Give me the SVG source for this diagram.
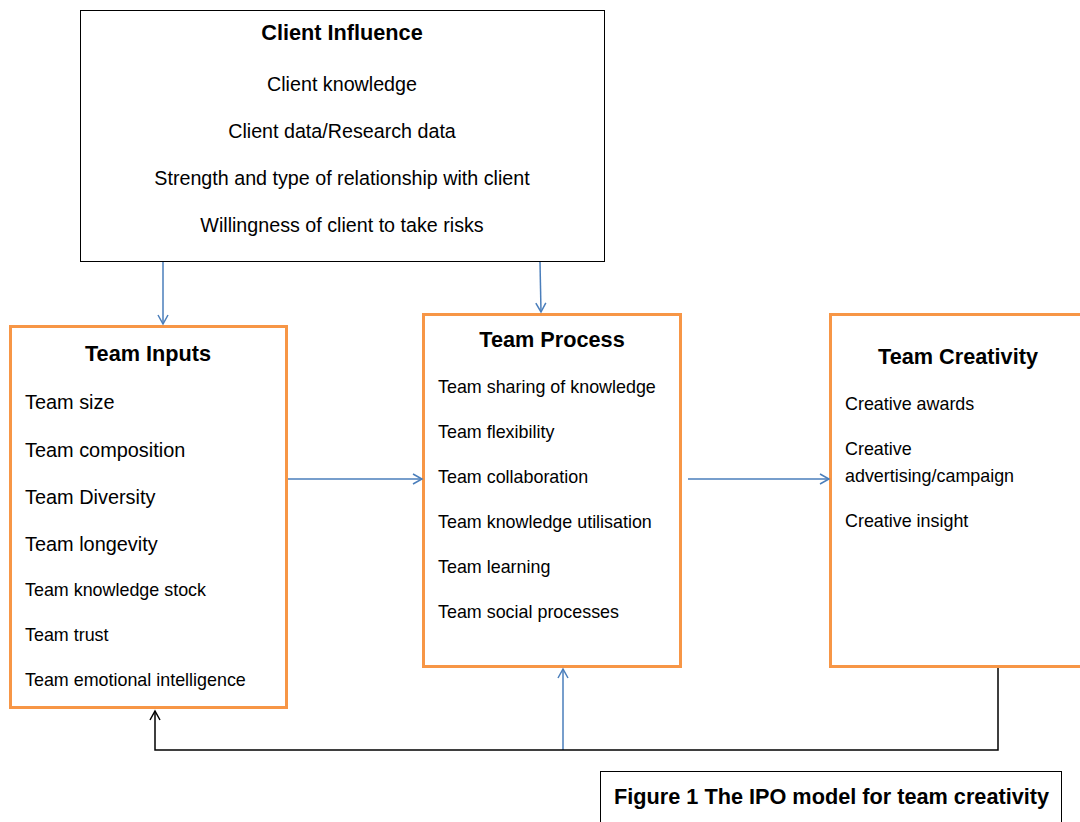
<svg xmlns="http://www.w3.org/2000/svg" width="1080" height="822" viewBox="0 0 1080 822">
<style>
text{font-family:"Liberation Sans",Arial,sans-serif;fill:#000}
.t{font-weight:bold;font-size:21.7px}
.c{font-size:19.7px;text-anchor:middle}
.i{font-size:17.9px}
.ib{font-size:19.9px}
.ob{fill:#fff;stroke:#F79646;stroke-width:3}
.bb{fill:#fff;stroke:#000;stroke-width:1}
.bl{stroke:#4A7EBB;stroke-width:1.5;fill:none}
.bk{stroke:#000;stroke-width:1.5;fill:none}
</style>
<defs>
<marker id="ab" markerWidth="12" markerHeight="12" refX="10" refY="6" orient="auto" markerUnits="userSpaceOnUse"><path d="M1,1 L10,6 L1,11" fill="none" stroke="#4A7EBB" stroke-width="1.5"/></marker>
<marker id="ak" markerWidth="12" markerHeight="12" refX="10" refY="6" orient="auto" markerUnits="userSpaceOnUse"><path d="M1,1 L10,6 L1,11" fill="none" stroke="#000" stroke-width="1.5"/></marker>
</defs>
<rect width="1080" height="822" fill="#fff"/>
<g id="client">
<rect class="bb" x="80.5" y="10.5" width="524" height="251"/>
<text class="t" x="342" y="40" text-anchor="middle">Client Influence</text>
<text class="c" x="342" y="91">Client knowledge</text>
<text class="c" x="342" y="138">Client data/Research data</text>
<text class="c" x="342" y="185">Strength and type of relationship with client</text>
<text class="c" x="342" y="232">Willingness of client to take risks</text>
</g>
<g id="inputs">
<rect class="ob" x="10.5" y="326.5" width="276" height="381"/>
<text class="t" x="148" y="361" text-anchor="middle">Team Inputs</text>
<text class="ib" x="25" y="409">Team size</text>
<text class="ib" x="25" y="457">Team composition</text>
<text class="ib" x="25" y="504">Team Diversity</text>
<text class="ib" x="25" y="551">Team longevity</text>
<text class="i" x="25" y="596">Team knowledge stock</text>
<text class="i" x="25" y="641">Team trust</text>
<text class="i" x="25" y="686">Team emotional intelligence</text>
</g>
<g id="process">
<rect class="ob" x="423.5" y="314.5" width="257" height="352"/>
<text class="t" x="552" y="347" text-anchor="middle">Team Process</text>
<text class="i" x="438" y="393">Team sharing of knowledge</text>
<text class="i" x="438" y="438">Team flexibility</text>
<text class="i" x="438" y="483">Team collaboration</text>
<text class="i" x="438" y="528">Team knowledge utilisation</text>
<text class="i" x="438" y="573">Team learning</text>
<text class="i" x="438" y="618">Team social processes</text>
</g>
<g id="creativity">
<rect class="ob" x="830.5" y="314.5" width="260" height="352"/>
<text class="t" x="958" y="364" text-anchor="middle">Team Creativity</text>
<text class="i" x="845" y="410">Creative awards</text>
<text class="i" x="845" y="455">Creative</text>
<text class="i" x="845" y="482">advertising/campaign</text>
<text class="i" x="845" y="527">Creative insight</text>
</g>
<g id="caption">
<rect class="bb" x="600.5" y="771.5" width="461" height="60"/>
<text class="t" x="614" y="804">Figure 1 The IPO model for team creativity</text>
</g>
<g id="connectors">
<line class="bl" x1="163" y1="262" x2="163" y2="324" marker-end="url(#ab)"/>
<line class="bl" x1="540" y1="262" x2="541" y2="312" marker-end="url(#ab)"/>
<line class="bl" x1="288" y1="479" x2="422" y2="479" marker-end="url(#ab)"/>
<line class="bl" x1="688" y1="479" x2="829" y2="479" marker-end="url(#ab)"/>
<line class="bl" x1="563" y1="750" x2="563" y2="669" marker-end="url(#ab)"/>
<path class="bk" d="M998,668 V750 H155 V711" marker-end="url(#ak)"/>
</g>
</svg>
